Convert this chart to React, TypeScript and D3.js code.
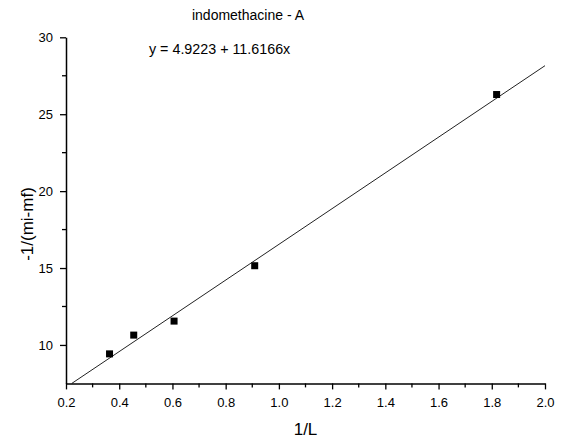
import React, { useEffect, useRef } from 'react';
import * as d3 from 'd3';

const xValues = [0.3636, 0.4545, 0.6061, 0.9091, 1.8182];
const yValues = [9.42, 10.64, 11.55, 15.15, 26.28];
const intercept = 4.9223;
const slope = 11.6166;
const xTicks = [0.2, 0.4, 0.6, 0.8, 1.0, 1.2, 1.4, 1.6, 1.8, 2.0];
const xMinorTicks = [0.3, 0.5, 0.7, 0.9, 1.1, 1.3, 1.5, 1.7, 1.9];
const yTicks = [10, 15, 20, 25, 30];
const yMinorTicks = [12.5, 17.5, 22.5, 27.5];

const App = () => {
  const svgRef = useRef<SVGSVGElement>(null);

  useEffect(() => {
    const width = 567;
    const height = 441;
    const left = 66;
    const right = 545;
    const top = 37.3;
    const bottom = 383.4;
    const font = "'Liberation Sans', Arial, Helvetica, sans-serif";

    const svg = d3.select(svgRef.current).attr('width', width).attr('height', height);
    svg.selectAll('*').remove();

    const x = d3.scaleLinear().domain([0.2, 2.0]).range([left, right]);
    const y = d3.scaleLinear().domain([7.5, 30]).range([bottom, top]);

    // fitted line, from where it enters the box to x = 2
    const x0 = (7.5 - intercept) / slope;
    const x1 = 2.0;
    svg
      .append('path')
      .datum([x0, x1])
      .attr('d', d3.line<number>().x(d => x(d)).y(d => y(intercept + slope * d)))
      .attr('stroke', '#222')
      .attr('stroke-width', 1)
      .attr('fill', 'none');

    const pts = xValues.map((v, i) => ({ x: v, y: yValues[i] }));
    const s = 7;
    svg
      .selectAll('rect.pt')
      .data(pts)
      .join('rect')
      .attr('class', 'pt')
      .attr('x', d => x(d.x) - s / 2)
      .attr('y', d => y(d.y) - s / 2)
      .attr('width', s)
      .attr('height', s)
      .attr('fill', '#000');

    const xAxis = svg
      .append('g')
      .attr('transform', `translate(0,${bottom})`)
      .call(
        d3.axisBottom(x).tickValues(xTicks).tickSize(6).tickPadding(8).tickSizeOuter(0)
          .tickFormat(d3.format('.1f'))
      );
    xAxis
      .append('g')
      .selectAll('line')
      .data(xMinorTicks)
      .join('line')
      .attr('x1', d => x(d))
      .attr('x2', d => x(d))
      .attr('y1', 0)
      .attr('y2', 4)
      .attr('stroke', '#000')
      .attr('stroke-width', 1.3);

    const yAxis = svg
      .append('g')
      .attr('transform', `translate(${left},0)`)
      .call(d3.axisLeft(y).tickValues(yTicks).tickSize(6).tickPadding(7).tickSizeOuter(0));
    yAxis
      .append('g')
      .selectAll('line')
      .data(yMinorTicks)
      .join('line')
      .attr('y1', d => y(d))
      .attr('y2', d => y(d))
      .attr('x1', 0)
      .attr('x2', -4)
      .attr('stroke', '#000')
      .attr('stroke-width', 1.3);

    [xAxis, yAxis].forEach(g => {
      g.select('.domain').attr('stroke', '#000').attr('stroke-width', 1.5);
      g.selectAll('.tick line').attr('stroke', '#000').attr('stroke-width', 1.3);
      g.selectAll('.tick text')
        .attr('fill', '#000')
        .style('font-family', font)
        .style('font-size', '13px');
    });

    svg
      .append('text')
      .attr('x', 248)
      .attr('y', 20)
      .attr('text-anchor', 'middle')
      .style('font-family', font)
      .style('font-size', '14px')
      .text('indomethacine - A');

    svg
      .append('text')
      .attr('x', 149)
      .attr('y', 54)
      .style('font-family', font)
      .style('font-size', '14.3px')
      .text(`y = ${intercept} + ${slope}x`);

    svg
      .append('text')
      .attr('x', (left + right) / 2)
      .attr('y', 435)
      .attr('text-anchor', 'middle')
      .style('font-family', font)
      .style('font-size', '17px')
      .text('1/L');

    svg
      .append('text')
      .attr('transform', `translate(33,224) rotate(-90)`)
      .attr('text-anchor', 'middle')
      .style('font-family', font)
      .style('font-size', '17px')
      .text('-1/(mi-mf)');
  }, []);

  return (
    <svg
      ref={svgRef}
      style={{ position: 'absolute', left: 0, top: 0, background: '#fff' }}
    ></svg>
  );
};

export default App;
